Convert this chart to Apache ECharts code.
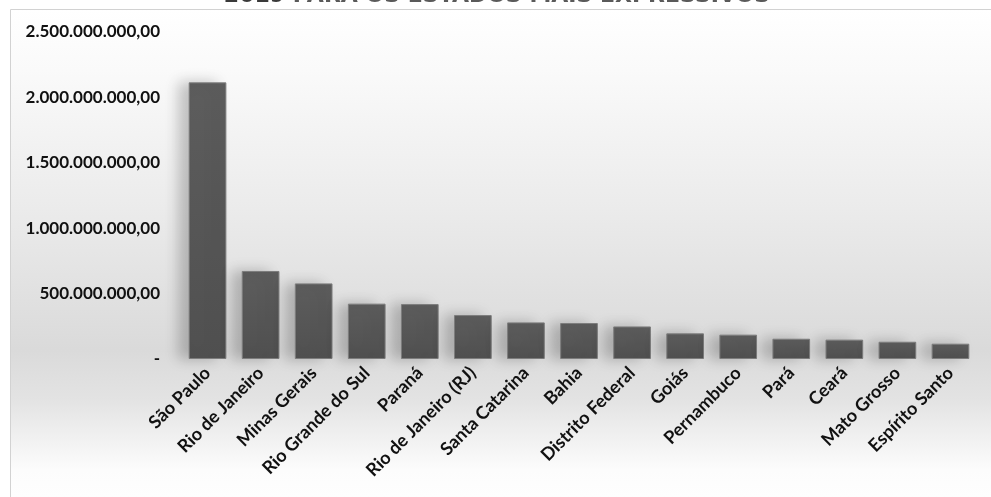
<!DOCTYPE html>
<html>
<head>
<meta charset="utf-8">
<script src="https://cdn.jsdelivr.net/npm/echarts@6/dist/echarts.min.js"></script>
<style>
  html, body { margin: 0; padding: 0; background: #ffffff; }
  #chart { width: 991px; height: 497px; }
</style>
</head>
<body>
<div id="chart"></div>
<script>
// Estados e valores (R$) de 2019
const estados = [
  'São Paulo', 'Rio de Janeiro', 'Minas Gerais', 'Rio Grande do Sul', 'Paraná',
  'Rio de Janeiro (RJ)', 'Santa Catarina', 'Bahia', 'Distrito Federal', 'Goiás',
  'Pernambuco', 'Pará', 'Ceará', 'Mato Grosso', 'Espírito Santo'
];
const valores = [
  2115000000, 673000000, 578000000, 423000000, 420000000,
  336000000, 280000000, 275000000, 249000000, 196000000,
  186000000, 155000000, 148000000, 132000000, 117000000
];
const eixoMax = 2500000000;
const eixoPasso = 500000000;
const tituloAno = '2019';
const tituloResto = ' PARA OS ESTADOS MAIS EXPRESSIVOS';

// Formato brasileiro: 1.000.000,00 ; zero vira "-"
function formatoBR(v) {
  if (v === 0) return '-';
  const inteiro = Math.round(v).toString().replace(/\B(?=(\d{3})+(?!\d))/g, '.');
  return inteiro + ',00';
}

const chart = echarts.init(document.getElementById('chart'), null, { renderer: 'canvas' });

chart.setOption({
  backgroundColor: '#ffffff',
  animation: false,
  graphic: [
    {
      type: 'rect',
      z: -10,
      silent: true,
      shape: { x: 10.5, y: 9.5, width: 1000, height: 500 },
      style: {
        fill: new echarts.graphic.LinearGradient(0, 0, 0, 1, [
          { offset: 0, color: '#ffffff' },
          { offset: 0.12, color: '#fafafa' },
          { offset: 0.4, color: '#ebebeb' },
          { offset: 0.68, color: '#dadada' },
          { offset: 0.78, color: '#e3e3e3' },
          { offset: 0.92, color: '#fcfcfc' },
          { offset: 1, color: '#ffffff' }
        ]),
        stroke: '#d2d2d2',
        lineWidth: 1
      }
    },
    {
      type: 'text',
      z: 10,
      x: 497,
      y: 7,
      style: {
        text: '{a|' + tituloAno + '}{b|' + tituloResto + '}',
        align: 'center',
        verticalAlign: 'bottom',
        rich: {
          a: { fontFamily: 'DejaVu Sans', fontWeight: 'bold', fontSize: 22, fill: '#3a3a3a' },
          b: { fontFamily: 'DejaVu Sans', fontWeight: 'bold', fontSize: 22, fill: '#5a5a5a' }
        }
      }
    }
  ],
  grid: { left: 181, right: 14, top: 32, bottom: 138, containLabel: false },
  xAxis: {
    type: 'category',
    data: estados,
    axisLine: { show: false },
    axisTick: { show: false },
    axisLabel: {
      rotate: 45,
      interval: 0,
      margin: 11,
      color: '#111111',
      fontFamily: 'Lato',
      fontWeight: 'bold',
      fontSize: 18
    }
  },
  yAxis: {
    type: 'value',
    min: 0,
    max: eixoMax,
    interval: eixoPasso,
    axisLine: { show: false },
    axisTick: { show: false },
    splitLine: { show: false },
    axisLabel: {
      margin: 21,
      color: '#111111',
      fontFamily: 'Lato',
      fontWeight: 'bold',
      fontSize: 17,
      formatter: formatoBR
    }
  },
  series: [
    {
      type: 'bar',
      data: valores,
      barCategoryGap: '29%',
      itemStyle: {
        color: new echarts.graphic.LinearGradient(0, 0, 0, 1, [
          { offset: 0, color: '#5d5d5d' },
          { offset: 1, color: '#505050' }
        ]),
        borderColor: '#7d7d7d',
        borderWidth: 1,
        shadowColor: 'rgba(0,0,0,0.22)',
        shadowBlur: 14,
        shadowOffsetX: -10,
        shadowOffsetY: 0
      }
    }
  ]
});
</script>
</body>
</html>
